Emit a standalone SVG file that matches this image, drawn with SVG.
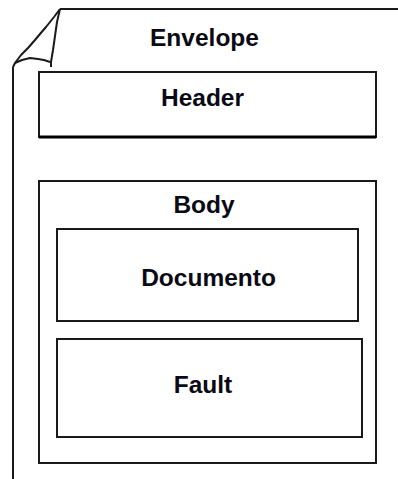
<svg xmlns="http://www.w3.org/2000/svg" width="398" height="479" viewBox="0 0 398 479">
  <style>
    .box { fill: none; stroke: #1a1a1a; stroke-width: 2; }
    .edge { fill: none; stroke: #1a1a1a; stroke-width: 2; stroke-linejoin: round; }
    .lbl { font-family: "Liberation Sans", Arial, sans-serif; font-weight: bold; font-size: 24.5px; fill: #0a0a14; text-anchor: middle; }
  </style>
  <rect width="398" height="479" fill="#ffffff"/>

  <!-- Envelope: open page outline with a folded top-left corner -->
  <g id="envelope">
    <path class="edge" d="M60,9 L398,9"/>
    <path class="edge" d="M13,67 L13,479"/>
    <path class="edge" d="M60,9 L54,17 L46,27 L40,34 L35,40 L28,48 L21,55 L15,63 L13,67"/>
    <path class="edge" d="M60,9 L57,22 L55,36 L53,50 L51,62 L51,67"/>
    <path class="edge" d="M15,63 L22,60 L30,58 L38,59 L44,60 L50,62"/>
    <text class="lbl" x="204.5" y="46">Envelope</text>
  </g>

  <g id="header">
    <rect class="box" x="39" y="72" width="337" height="65"/>
    <line x1="39" y1="137" x2="376" y2="137" stroke="#000" stroke-width="3"/>
    <text class="lbl" x="202.5" y="106">Header</text>
  </g>

  <g id="body">
    <rect class="box" x="39" y="181" width="337" height="282"/>
    <text class="lbl" x="204" y="213">Body</text>
  </g>

  <g id="documento">
    <rect class="box" x="57" y="229" width="301" height="92"/>
    <text class="lbl" x="208.5" y="286">Documento</text>
  </g>

  <g id="fault">
    <rect class="box" x="57" y="339" width="305" height="98"/>
    <text class="lbl" x="203" y="393">Fault</text>
  </g>

  <g id="connectors"></g>
</svg>
